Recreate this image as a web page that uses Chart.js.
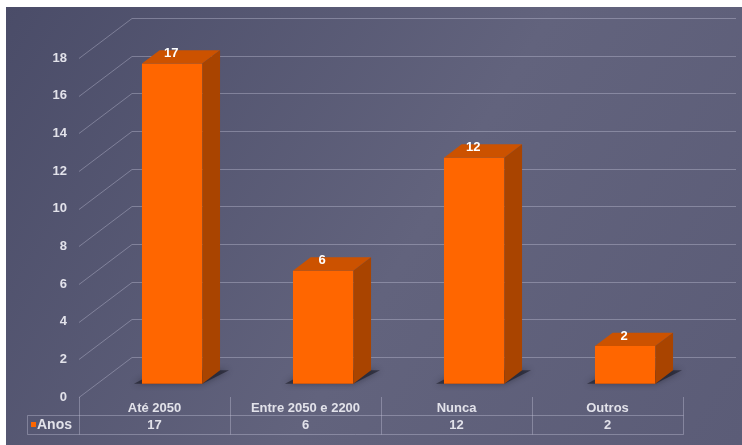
<!DOCTYPE html>
<html>
<head>
<meta charset="utf-8">
<script src="https://cdn.jsdelivr.net/npm/chart.js@4"></script>
<style>
  html, body { margin: 0; padding: 0; background: #fff; }
  #wrap { width: 742px; height: 445px; }
</style>
</head>
<body>
<div id="wrap"><canvas id="chart" width="742" height="445"></canvas></div>
<script>
var categories = ['Até 2050', 'Entre 2050 e 2200', 'Nunca', 'Outros']
var seriesName = 'Anos'
var anos = [17, 6, 12, 2]
var yTicks = [0, 2, 4, 6, 8, 10, 12, 14, 16, 18]

var FONT = '"Liberation Sans", Arial, sans-serif'
var TEXT = '#e2e2ea'
var GRID = 'rgba(200, 200, 222, 0.38)'
var ORANGE = '#ff6600'

// depth of the whole floor (back wall offset) and the bar slab within it
var DX = 53, DY = 40
var BDX = DX / 3, BDY = DY / 3

var backdrop = {
    id: 'backdrop',
    beforeDraw(chart) {
        var ctx = chart.ctx
        ctx.save()
        ctx.fillStyle = '#ffffff'
        ctx.fillRect(0, 0, chart.width, chart.height)
        var g = ctx.createLinearGradient(6, 0, chart.width, chart.height)
        g.addColorStop(0, '#4a4c68')
        g.addColorStop(0.55, '#62637d')
        g.addColorStop(1, '#5b5c77')
        ctx.fillStyle = g
        ctx.fillRect(6, 7, chart.width - 6, chart.height - 7)
        ctx.restore()
    }
}

var box3d = {
    id: 'box3d',
    beforeDatasetsDraw(chart) {
        var ctx = chart.ctx
        var y = chart.scales.y
        var a = chart.chartArea
        ctx.save()
        // walls: diagonal from the front plane, then the back line
        ctx.strokeStyle = GRID
        ctx.lineWidth = 1
        yTicks.forEach(function(v) {
            var py = Math.round(y.getPixelForValue(v)) + 0.5
            ctx.beginPath()
            ctx.moveTo(a.left, py)
            ctx.lineTo(a.left + DX, py - DY)
            ctx.lineTo(a.right + DX, py - DY)
            ctx.stroke()
        })
        ctx.translate(BDX, -BDY)
        // soft shadows under the bars
        var meta = chart.getDatasetMeta(0)
        meta.data.forEach(function(bar) {
            var l = bar.x - bar.width / 2, r = bar.x + bar.width / 2, b = bar.base
            ctx.save()
            ctx.fillStyle = 'rgba(20, 20, 30, 0.55)'
            ctx.shadowColor = 'rgba(20, 20, 30, 0.8)'
            ctx.shadowBlur = 6
            ctx.beginPath()
            ctx.moveTo(l - 8, b)
            ctx.lineTo(r, b)
            ctx.lineTo(r + BDX + 9, b - BDY)
            ctx.lineTo(l + BDX, b - BDY)
            ctx.closePath()
            ctx.fill()
            ctx.restore()
        })
    },
    afterDatasetsDraw(chart) {
        var ctx = chart.ctx
        var meta = chart.getDatasetMeta(0)
        meta.data.forEach(function(bar, i) {
            var l = bar.x - bar.width / 2, r = bar.x + bar.width / 2
            var t = bar.y, b = bar.base
            ctx.fillStyle = '#cc5200'
            ctx.beginPath()
            ctx.moveTo(l, t)
            ctx.lineTo(l + BDX, t - BDY)
            ctx.lineTo(r + BDX, t - BDY)
            ctx.lineTo(r, t)
            ctx.closePath()
            ctx.fill()
            ctx.fillStyle = '#a94400'
            ctx.beginPath()
            ctx.moveTo(r, t)
            ctx.lineTo(r + BDX, t - BDY)
            ctx.lineTo(r + BDX, b - BDY)
            ctx.lineTo(r, b)
            ctx.closePath()
            ctx.fill()
            ctx.fillStyle = '#ffffff'
            ctx.font = 'bold 13px ' + FONT
            ctx.textAlign = 'center'
            ctx.textBaseline = 'middle'
            ctx.fillText(String(anos[i]), bar.x - 1, t - 10)
        })
        ctx.restore()
    },
    afterDraw(chart) {
        // data table under the category labels
        var ctx = chart.ctx
        var a = chart.chartArea
        var x = chart.scales.x
        var catW = (a.right - a.left) / categories.length
        var rowTop = 415.5, rowBot = 434.5, tableLeft = 27.5
        ctx.save()
        ctx.strokeStyle = GRID
        ctx.lineWidth = 1
        ctx.beginPath()
        for (let i = 0; i <= categories.length; i++) {
            var px = Math.round(a.left + i * catW) + 0.5
            ctx.moveTo(px, a.bottom)
            ctx.lineTo(px, rowBot)
        }
        ctx.moveTo(tableLeft, rowTop)
        ctx.lineTo(a.right + 0.5, rowTop)
        ctx.moveTo(tableLeft, rowBot)
        ctx.lineTo(a.right + 0.5, rowBot)
        ctx.moveTo(tableLeft, rowTop)
        ctx.lineTo(tableLeft, rowBot)
        ctx.stroke()

        ctx.fillStyle = TEXT
        ctx.font = 'bold 13px ' + FONT
        ctx.textAlign = 'center'
        ctx.textBaseline = 'middle'
        anos.forEach(function(v, i) {
            ctx.fillText(String(v), x.getPixelForValue(i), 425)
        })
        ctx.fillStyle = ORANGE
        ctx.fillRect(31, 422, 5, 5)
        ctx.fillStyle = TEXT
        ctx.font = 'bold 14px ' + FONT
        ctx.textAlign = 'left'
        ctx.fillText(seriesName, 37, 425)
        ctx.restore()
    }
}

new Chart(document.getElementById('chart'), {
    type: 'bar',
    data: {
        labels: categories,
        datasets: [{
            label: seriesName,
            data: anos,
            backgroundColor: ORANGE,
            borderWidth: 0,
            categoryPercentage: 1.0,
            barPercentage: 0.4,
            clip: false,
        }]
    },
    options: {
        responsive: false,
        animation: false,
        layout: { padding: { top: 58, right: 59, bottom: 0, left: 0 } },
        plugins: {
            legend: { display: false },
            tooltip: { enabled: false },
        },
        scales: {
            x: {
                grid: { display: false, drawTicks: false },
                border: { display: false },
                ticks: {
                    color: TEXT,
                    font: { family: FONT, size: 13, weight: 'bold' },
                    padding: 4,
                    maxRotation: 0,
                },
                afterFit: function(scale) { scale.height = 48 },
            },
            y: {
                min: 0,
                max: 18,
                grid: { display: false, drawTicks: false },
                border: { display: false },
                ticks: {
                    stepSize: 2,
                    color: TEXT,
                    font: { family: FONT, size: 13, weight: 'bold' },
                    padding: 12,
                },
                afterFit: function(scale) { scale.width = 79 },
            }
        }
    },
    plugins: [backdrop, box3d]
})
</script>
</body>
</html>
